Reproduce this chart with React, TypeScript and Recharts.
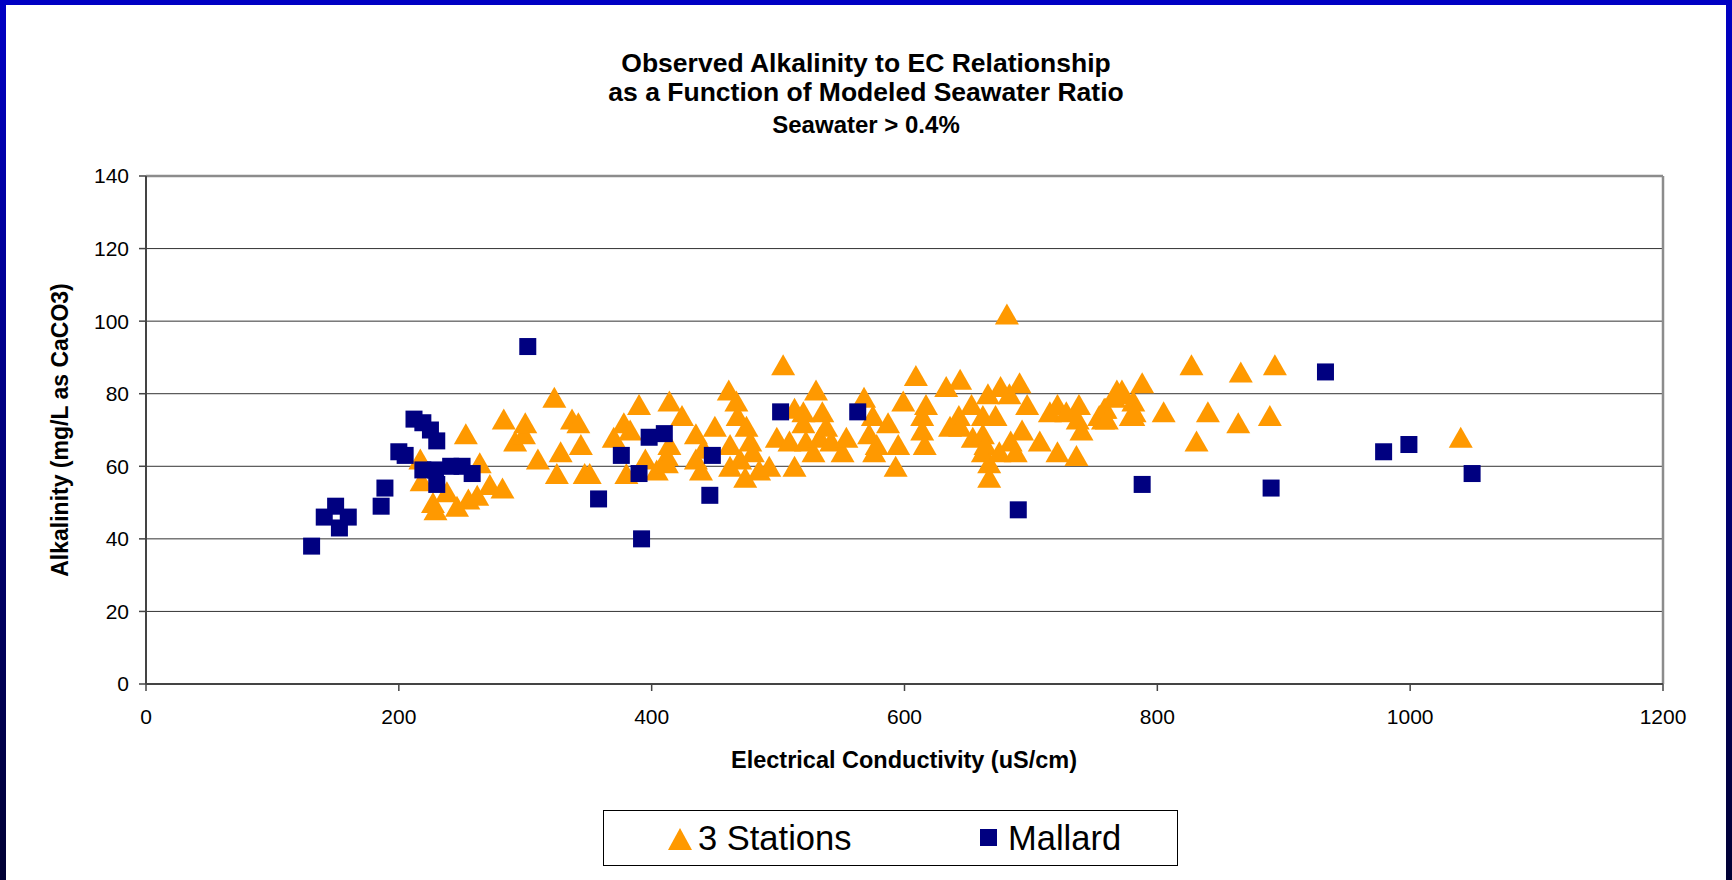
import { ScatterChart, Scatter, XAxis, YAxis, CartesianGrid, ReferenceLine } from 'recharts';

// 3 Stations: EC (uS/cm) and alkalinity (mg/L as CaCO3)
const stationsEC = [
  217, 218, 227, 229, 238, 246, 253, 255, 262, 264, 272, 282, 283, 292, 299, 300, 310, 323, 325, 328,
  337, 342, 344, 347, 351, 370, 378, 380, 383, 390, 395, 404, 412, 412, 414, 414, 424, 435, 435, 439,
  441, 450, 461, 462, 462, 467, 468, 470, 474, 475, 478, 480, 485, 493, 499, 504, 509, 513, 513, 520,
  520, 522, 528, 530, 533, 535, 538, 542, 551, 554, 568, 572, 575, 576, 578, 587, 593, 595, 599, 609,
  614, 614, 616, 617, 633, 636, 643, 644, 644, 653, 654, 662, 662, 662, 664, 666, 667, 667, 672, 675,
  676, 681, 683, 684, 688, 691, 693, 697, 707, 715, 721, 721, 728, 736, 737, 738, 740, 754, 757, 758,
  759, 760, 766, 768, 771, 772, 779, 781, 781, 782, 788, 805, 827, 831, 840, 864, 866, 889, 893, 1040,
];
const stationsAlk = [
  62, 56, 50, 48, 53, 49, 69, 51, 52, 61, 55, 54, 73, 67, 69, 72, 62, 79, 58, 64,
  73, 72, 66, 58, 58, 68, 72, 58, 70, 77, 62, 59, 63, 61, 78, 66, 74, 69, 62, 59,
  65, 71, 81, 66, 60, 78, 74, 62, 57, 71, 67, 64, 59, 60, 68, 88, 67, 60, 76, 75,
  72, 67, 64, 81, 68, 75, 71, 67, 64, 68, 79, 69, 74, 64, 66, 72, 60, 66, 78, 85,
  74, 70, 66, 77, 82, 71, 74, 84, 71, 77, 68, 74, 69, 64, 66, 80, 61, 57, 74, 64,
  82, 102, 80, 67, 64, 83, 70, 77, 67, 75, 64, 77, 75, 63, 73, 77, 70, 74, 73, 76,
  76, 73, 79, 81, 80, 81, 74, 78, 74, 75, 83, 75, 88, 67, 75, 72, 86, 74, 88, 68,
];

// Mallard
const mallardEC = [
  131, 141, 150, 153, 160, 186, 189, 200, 205, 212, 219, 219, 225, 229, 230, 230, 241, 250, 258, 302,
  358, 376, 390, 392, 398, 410, 446, 448, 502, 563, 690, 788, 890, 933, 979, 999, 1049,
];
const mallardAlk = [
  38, 46, 49, 43, 46, 49, 54, 64, 63, 73, 72, 59, 70, 59, 67, 55, 60, 60, 58, 93,
  51, 63, 58, 40, 68, 69, 52, 63, 75, 75, 48, 55, 54, 86, 64, 66, 58,
];

const xTicks = [0, 200, 400, 600, 800, 1000, 1200];
const yTicks = [0, 20, 40, 60, 80, 100, 120, 140];

const stations = stationsEC.map((x, i) => ({ x, y: stationsAlk[i] }));
const mallard = mallardEC.map((x, i) => ({ x, y: mallardAlk[i] }));

const FONT = '"Liberation Sans", Arial, sans-serif';
const ORANGE = '#FF9900';
const NAVY = '#000080';

const Triangle = (props: any) => {
  const { cx, cy } = props;
  return (
    <polygon
      points={`${cx},${cy - 10.5} ${cx + 12},${cy + 10.5} ${cx - 12},${cy + 10.5}`}
      fill={ORANGE}
    />
  );
};

const Square = (props: any) => {
  const { cx, cy } = props;
  return <rect x={cx - 8.5} y={cy - 8.5} width={17} height={17} fill={NAVY} />;
};

export default function App() {
  const tickStyle = { fontSize: 21, fill: '#000', fontFamily: FONT };
  return (
    <div style={{ position: 'absolute', left: 0, top: 0, width: 1732, height: 880, background: 'linear-gradient(to bottom, #0000c4, #000034)', fontFamily: FONT }}>
      <div style={{ position: 'absolute', left: 6, top: 5, width: 1720, height: 875, background: '#fff' }} />

      <div style={{ position: 'absolute', left: 0, width: 1732, top: 48, lineHeight: '30px', textAlign: 'center', fontWeight: 'bold', fontSize: 26.5 }}>
        Observed Alkalinity to EC Relationship
      </div>
      <div style={{ position: 'absolute', left: 0, width: 1732, top: 77, lineHeight: '30px', textAlign: 'center', fontWeight: 'bold', fontSize: 26.5 }}>
        as a Function of Modeled Seawater Ratio
      </div>
      <div style={{ position: 'absolute', left: 0, width: 1732, top: 111, lineHeight: '28px', textAlign: 'center', fontWeight: 'bold', fontSize: 24 }}>
        Seawater &gt; 0.4%
      </div>

      <div style={{ position: 'absolute', left: 0, top: 0 }}>
        <ScatterChart width={1732} height={880} margin={{ top: 176, right: 69, bottom: 156, left: 66 }}>
          <CartesianGrid vertical={false} stroke="#333" strokeWidth={1} />
          <XAxis
            type="number"
            dataKey="x"
            domain={[0, 1200]}
            ticks={xTicks}
            interval={0}
            height={40}
            tickSize={7}
            tickMargin={18}
            tick={tickStyle}
            axisLine={{ stroke: '#444', strokeWidth: 2 }}
            tickLine={{ stroke: '#444', strokeWidth: 1.5 }}
          />
          <YAxis
            type="number"
            dataKey="y"
            domain={[0, 140]}
            ticks={yTicks}
            interval={0}
            width={80}
            tickSize={7}
            tickMargin={10}
            tick={tickStyle}
            axisLine={{ stroke: '#444', strokeWidth: 2 }}
            tickLine={{ stroke: '#444', strokeWidth: 1.5 }}
          />
          <ReferenceLine y={140} stroke="#8c8c8c" strokeWidth={2.5} />
          <ReferenceLine x={1200} stroke="#8c8c8c" strokeWidth={2.5} />
          <Scatter name="3 Stations" data={stations} shape={Triangle} isAnimationActive={false} />
          <Scatter name="Mallard" data={mallard} shape={Square} isAnimationActive={false} />
        </ScatterChart>
      </div>

      <div style={{ position: 'absolute', left: 904, top: 760, transform: 'translate(-50%, -50%)', fontWeight: 'bold', fontSize: 23.5, whiteSpace: 'nowrap' }}>
        Electrical Conductivity (uS/cm)
      </div>
      <div style={{ position: 'absolute', left: 60, top: 430, transform: 'translate(-50%, -50%) rotate(-90deg)', fontWeight: 'bold', fontSize: 23, whiteSpace: 'nowrap' }}>
        Alkalinity (mg/L as CaCO3)
      </div>

      <div style={{ position: 'absolute', left: 603, top: 810, width: 573, height: 54, border: '1px solid #000', background: '#fff' }}>
        <svg style={{ position: 'absolute', left: 64, top: 16 }} width={24} height={24}>
          <polygon points="12,1 24,23 0,23" fill={ORANGE} />
        </svg>
        <div style={{ position: 'absolute', left: 94, top: 0, lineHeight: '54px', fontSize: 34.5 }}>3 Stations</div>
        <svg style={{ position: 'absolute', left: 376, top: 18 }} width={18} height={18}>
          <rect x={0} y={0} width={17} height={17} fill={NAVY} />
        </svg>
        <div style={{ position: 'absolute', left: 404, top: 0, lineHeight: '54px', fontSize: 34.5 }}>Mallard</div>
      </div>
    </div>
  );
}
